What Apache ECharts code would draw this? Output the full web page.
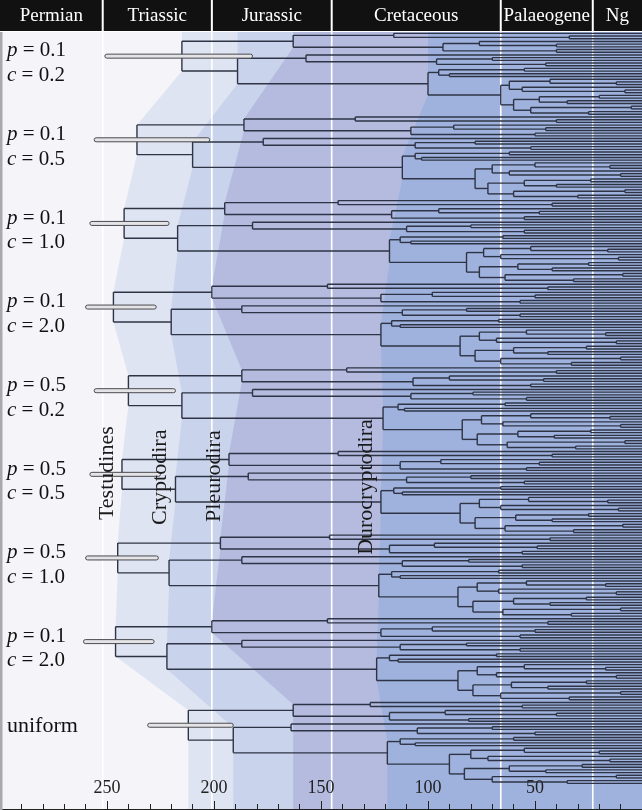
<!DOCTYPE html>
<html><head><meta charset="utf-8">
<script src="https://cdn.jsdelivr.net/npm/echarts@6/dist/echarts.min.js"></script>
<style>html,body{margin:0;padding:0;background:#fff}#c{width:642px;height:810px}</style>
</head><body><div id="c"></div>
<script>
// ---------- data ----------
const periodNames  = ['Permian','Triassic','Jurassic','Cretaceous','Palaeogene','Ng'];
const periodStart  = [300, 252, 201, 145, 66, 23];
const periodEnd    = [252, 201, 145, 66, 23, 0];

// shared topology of the dated trees (31 tips, 30 internal nodes numbered in preorder)
const treeShape = "(((t,(t,t)),((t,(t,t)),(t,t))),((t,((t,t),(t,t))),(((t,t),(t,t)),(((t,(t,t)),(t,(t,t))),(((t,t),(t,t)),((t,t),(t,t)))))))";

// internal node ages (Ma), preorder
const agesP01C02 = [215,163,116,34,93,76,40,40,189,157,96,70,45,100,95,55,90,66,62,43,12,56,8,60,48,20,35,52,5,25];
const agesP01C05 = [236,186,134,40,108,88,45,50,210,177,106,78,52,112,106,62,103,78,70,50,15,62,10,72,55,24,40,60,8,30];
const agesP01C10 = [242,195,142,42,117,95,48,55,217,182,110,80,55,118,113,65,108,82,74,52,16,66,11,76,58,25,42,64,9,32];
const agesP01C20 = [247,201,147,44,122,98,50,57,220,187,112,82,57,122,117,67,113,85,76,54,17,68,12,78,60,26,44,66,10,33];
const agesP05C02 = [240,187,138,40,107,90,46,52,215,182,108,79,54,121,114,64,111,84,75,52,15,65,10,77,58,24,41,63,8,31];
const agesP05C05 = [243,193,142,42,113,94,48,54,218,184,110,80,55,122,116,66,112,85,76,53,16,66,11,78,59,25,42,64,9,32];
const agesP05C10 = [245,197,146,43,118,97,49,56,221,187,112,81,56,123,117,67,113,86,77,54,17,67,12,79,60,26,43,65,10,33];
const agesP01C20b= [246,201,147,44,122,98,50,57,222,187,113,82,57,124,118,68,114,86,77,55,17,68,12,79,61,26,44,66,10,34];
const agesUniform= [212,163,127,56,118,92,40,81,191,164,105,70,50,119,113,60,106,90,80,55,20,72,15,83,62,28,45,70,12,35];

// root age prior span (Ma)
const capsuleOld   = [251,256,258,260,256,258,260,261,231];
const capsuleYoung = [182,202,221,227,218,225,226,228,191];

const pValues = ['0.1','0.1','0.1','0.1','0.5','0.5','0.5','0.1'];
const cValues = ['0.2','0.5','1.0','2.0','0.2','0.5','1.0','2.0'];
const lastLabel = 'uniform';

const cladeNames = ['Testudines','Cryptodira','Pleurodira','Durocryptodira'];
const cladeNode  = [0, 8, 1, 13];

// ---------- build ----------
const treeAges = [agesP01C02,agesP01C05,agesP01C10,agesP01C20,agesP05C02,agesP05C05,agesP05C10,agesP01C20b,agesUniform];

function parseShape(s){
  let i=0, id=0;
  function node(){
    if(s[i]==='('){ const n={id:id++,children:[]}; i++; n.children.push(node());
      while(s[i]===','){ i++; n.children.push(node()); } i++; return n; }
    i++; return {leaf:true};
  }
  return node();
}
const shape = parseShape(treeShape);
const TIPS = 31;

const segData = [];
const nodeInfo = [];  // per tree: id -> {age,y,top,bot}
treeAges.forEach((ages,k)=>{
  let leaf = 0; const info = {};
  function walk(n){
    if(n.leaf){ return {y: k*TIPS + (leaf++), age: 0}; }
    const kids = n.children.map(walk);
    const age = ages[n.id];
    const top = kids[0].y, bot = kids[kids.length-1].y;
    const y = (top+bot)/2;
    segData.push([age, top, age, bot]);
    kids.forEach(c=>segData.push([age, c.y, c.age, c.y]));
    info[n.id] = {age, y, top, bot};
    return {y, age};
  }
  walk(shape);
  nodeInfo.push(info);
});

const Y0 = -0.5, Y1 = 287.5;
const bandColors = ['#dfe4f2','#c9d4ec','#b4bbdf','#9fb2de'];
const lineColor = '#2e3445';
const serif = 'Liberation Serif';

const chart = echarts.init(document.getElementById('c'), null, {renderer:'canvas'});
chart.setOption({
  animation:false,
  grid:[
    {left:0,right:0,top:32,bottom:1,show:true,backgroundColor:'#f5f5f9',borderWidth:0},
    {left:0,right:0,top:0,height:31}
  ],
  xAxis:[
    {type:'value',gridIndex:0,min:0,max:300,interval:50,inverse:true,
     axisLine:{show:true,onZero:false,lineStyle:{color:'#222',width:1}},
     axisTick:{show:true,inside:true,length:8,lineStyle:{color:'#222'}},
     minorTick:{show:true,splitNumber:5,length:5,lineStyle:{color:'#222'}},
     axisLabel:{inside:true,margin:12,fontFamily:serif,fontSize:18,color:'#222',showMinLabel:false,showMaxLabel:false},
     splitLine:{show:false}, z:10},
    {type:'value',gridIndex:1,min:0,max:300,inverse:true,show:false}
  ],
  yAxis:[
    {type:'value',gridIndex:0,min:Y0,max:Y1,inverse:true,show:false},
    {type:'value',gridIndex:1,min:0,max:1,show:false}
  ],
  graphic:[{type:'rect',left:0,top:32,shape:{width:2.5,height:778},style:{fill:'#a9a9ad'},z:100}],
  series:[
    // header
    {type:'custom',xAxisIndex:1,yAxisIndex:1,data:periodNames.map((n,i)=>[periodStart[i],periodEnd[i],i]),
     renderItem(params,api){
       const i = api.value(2);
       const a = api.coord([api.value(0),1]), b = api.coord([api.value(1),0]);
       const ch = [
         {type:'rect',shape:{x:a[0],y:a[1],width:b[0]-a[0],height:b[1]-a[1]},style:{fill:'#111'}},
         {type:'text',x:(a[0]+b[0])/2,y:(a[1]+b[1])/2+1,style:{text:periodNames[i],fill:'#fff',fontFamily:serif,fontSize:19,align:'center',verticalAlign:'middle'}}
       ];
       if(api.value(0)<300) ch.push({type:'rect',shape:{x:a[0]-1,y:a[1],width:2,height:b[1]-a[1]},style:{fill:'#fff'}});
       return {type:'group',children:ch};
     }},
    // clade bands
    {type:'custom',clip:true,z:1,data:cladeNames.map((n,i)=>[i]),
     renderItem(params,api){
       const c = params.dataIndex, id = cladeNode[c];
       const pts = [];
       pts.push(api.coord([nodeInfo[0][id].age, Y0-5]));
       nodeInfo.forEach(inf=>{ pts.push(api.coord([inf[id].age, inf[id].top])); pts.push(api.coord([inf[id].age, inf[id].bot])); });
       pts.push(api.coord([nodeInfo[nodeInfo.length-1][id].age, Y1+5]));
       pts.push(api.coord([-20, Y1+5]));
       pts.push(api.coord([-20, Y0-5]));
       return {type:'polygon',shape:{points:pts},style:{fill:bandColors[c]}};
     }},
    // period boundary lines
    {type:'custom',clip:true,z:2,data:periodStart.slice(1).map(v=>[v]),
     renderItem(params,api){
       const a = api.coord([api.value(0),Y0]), b = api.coord([api.value(0),Y1]);
       return {type:'line',shape:{x1:a[0],y1:a[1],x2:b[0],y2:b[1]},style:{stroke:'#fff',lineWidth:1.6}};
     }},
    // trees
    {type:'custom',clip:true,z:3,progressive:0,data:segData,encode:{x:[0,2],y:[1,3]},
     renderItem(params,api){
       const a = api.coord([api.value(0),api.value(1)]), b = api.coord([api.value(2),api.value(3)]);
       return {type:'line',shape:{x1:a[0],y1:a[1],x2:b[0],y2:b[1]},style:{stroke:lineColor,lineWidth:1.4}};
     }},
    // root age capsules
    {type:'custom',clip:true,z:4,data:capsuleOld.map((v,k)=>[v,capsuleYoung[k],nodeInfo[k][0].y]),
     renderItem(params,api){
       const a = api.coord([api.value(0),api.value(2)]), b = api.coord([api.value(1),api.value(2)]);
       return {type:'rect',shape:{x:a[0],y:a[1]-2,width:b[0]-a[0],height:4,r:2},style:{fill:'#e4e4e6',stroke:'#4a4a50',lineWidth:1}};
     }},
    // tree labels
    {type:'custom',clip:false,z:5,data:capsuleOld.map((v,k)=>[300,nodeInfo[k][0].y,k]),
     renderItem(params,api){
       const k = api.value(2);
       const p = api.coord([300, api.value(1)]);
       const cx = 7;
       const base = {fill:'#111',fontFamily:serif,fontSize:21,align:'left',verticalAlign:'middle',
         rich:{i:{fontStyle:'italic',fontFamily:serif,fontSize:21,fill:'#111'},n:{fontFamily:serif,fontSize:21,fill:'#111'}}};
       if(k >= pValues.length){
         return {type:'text',x:cx,y:p[1]+1,style:Object.assign({},base,{text:lastLabel,fontSize:22})};
       }
       const cy = p[1] + 7;
       return {type:'group',children:[
         {type:'text',x:cx,y:cy-12.3,style:Object.assign({},base,{text:'{i|p}{n| = '+pValues[k]+'}'})},
         {type:'text',x:cx,y:cy+12.3,style:Object.assign({},base,{text:'{i|c}{n| = '+cValues[k]+'}'})}
       ]};
     }},
    // clade labels (rotated), placed beside the nodes of the sixth tree
    {type:'custom',clip:false,z:6,data:cladeNames.map((n,i)=>[i]),
     renderItem(params,api){
       const c = params.dataIndex;
       const bottomRow = [180.4,182.2,181.1,193.3][c];
       const p = api.coord([nodeInfo[5][cladeNode[c]].age + 7, bottomRow]);
       return {type:'text',x:p[0],y:p[1],rotation:Math.PI/2,
         style:{text:cladeNames[c],fill:'#1a1a1a',fontFamily:serif,fontSize:22,align:'left',verticalAlign:'middle'}};
     }}
  ]
});
</script></body></html>
